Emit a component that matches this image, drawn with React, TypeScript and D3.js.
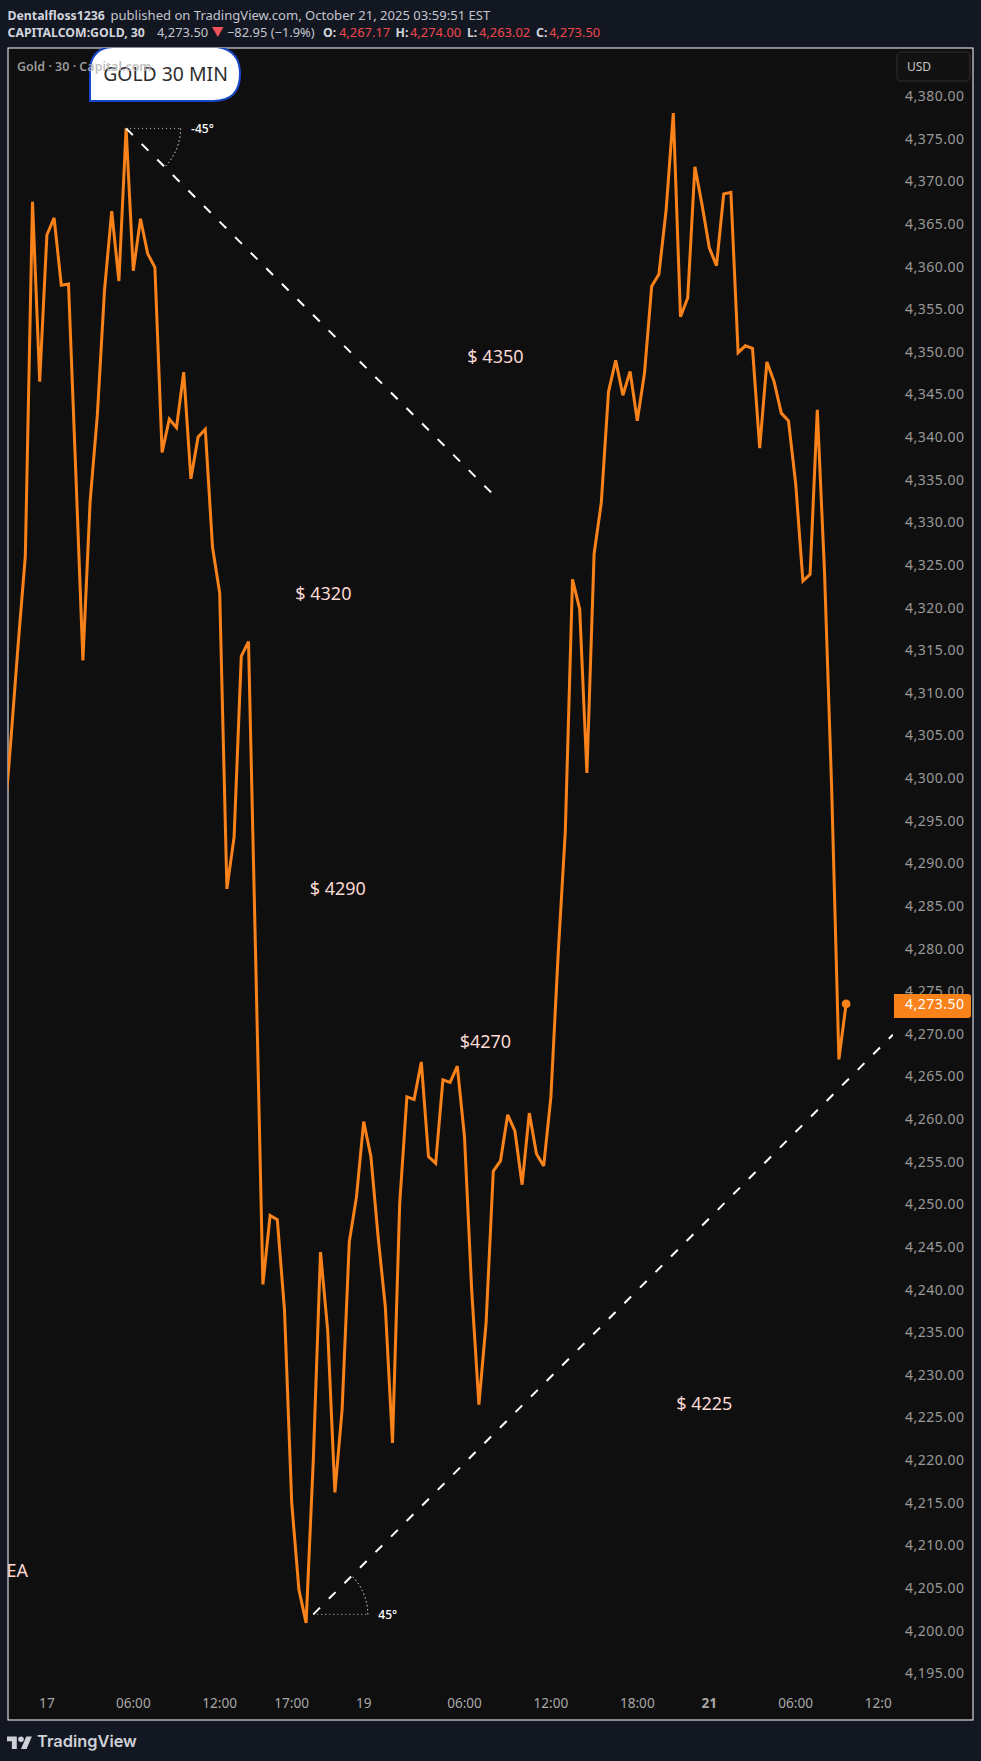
import React from "react";
import * as d3 from "d3";

const WIDTH = 981;
const HEIGHT = 1761;

// 30 minute closes
const closes = [
  4293.9, 4304.5, 4315.6, 4326.0, 4367.6, 4346.5, 4363.7, 4365.7, 4357.8, 4357.95,
  4336.1, 4313.8, 4332.4, 4342.5, 4357.2, 4366.5, 4358.3, 4376.2, 4359.5, 4365.6,
  4361.5, 4359.9, 4338.2, 4342.1, 4341.1, 4347.6, 4335.1, 4340.0, 4340.9, 4327.1,
  4321.7, 4287.0, 4293.1, 4314.3, 4316.0, 4278.7, 4240.6, 4248.7, 4248.2, 4237.6,
  4215.0, 4204.8, 4200.9, 4220.0, 4244.4, 4235.2, 4216.2, 4225.9, 4245.6, 4250.9,
  4259.7, 4255.6, 4246.2, 4238.0, 4222.0, 4250.1, 4262.6, 4262.3, 4266.7, 4255.6,
  4254.8, 4264.6, 4264.3, 4266.2, 4257.9, 4239.9, 4226.5, 4236.1, 4253.9, 4255.1,
  4260.5, 4258.6, 4252.3, 4260.7, 4255.9, 4254.5, 4262.6, 4279.2, 4293.7, 4323.3,
  4319.8, 4300.6, 4326.3, 4332.3, 4345.3, 4349.0, 4344.9, 4347.7, 4341.9, 4347.5,
  4357.7, 4359.1, 4366.6, 4378.0, 4354.1, 4356.3, 4371.7, 4367.2, 4362.2, 4360.1,
  4368.5, 4368.7, 4349.9, 4350.7, 4350.4, 4338.7, 4348.8, 4346.5, 4342.8, 4341.9,
  4334.5, 4323.1, 4323.9, 4343.2, 4324.2, 4298.6, 4267.0, 4273.5,
];

const priceTicks = d3.range(4195, 4385, 5);

const timeTicks = [
  { bar: 6, label: "17", bold: false },
  { bar: 18, label: "06:00", bold: false },
  { bar: 30, label: "12:00", bold: false },
  { bar: 40, label: "17:00", bold: false },
  { bar: 50, label: "19", bold: false },
  { bar: 64, label: "06:00", bold: false },
  { bar: 76, label: "12:00", bold: false },
  { bar: 88, label: "18:00", bold: false },
  { bar: 98, label: "21", bold: true },
  { bar: 110, label: "06:00", bold: false },
  { bar: 122, label: "12:00", bold: false },
];

// price notes, anchored on bar and price like the drawing tools
const notes = [
  { bar: 68.3, price: 4349.4, text: "$ 4350" },
  { bar: 44.4, price: 4321.7, text: "$ 4320" },
  { bar: 46.4, price: 4287.1, text: "$ 4290" },
  { bar: 66.9, price: 4269.1, text: "$4270" },
  { bar: 97.3, price: 4226.6, text: "$ 4225" },
];

const trendLines = [
  { from: [17, 4376.2], to: [67.7, 4333.5], angle: "-45°", dir: 1 },
  { from: [43, 4201.9], to: [123.5, 4269.9], angle: "45°", dir: -1 },
];

const titleParts = [
  { x: 7.5, text: "Dentalfloss1236", bold: true, color: "#d1d4dc" },
  { x: 110.5, text: "published on TradingView.com, October 21, 2025 03:59:51 EST", bold: false, color: "#c3c6ce" },
];

const legendParts = [
  { x: 7.5, text: "CAPITALCOM:GOLD, 30", bold: true, color: "#d1d4dc" },
  { x: 157, text: "4,273.50", bold: false, color: "#c3c6ce" },
  { x: 227, text: "−82.95 (−1.9%)", bold: false, color: "#c3c6ce" },
  { x: 323, text: "O:", bold: true, color: "#d1d4dc" },
  { x: 339, text: "4,267.17", bold: false, color: "#f0474c" },
  { x: 395.5, text: "H:", bold: true, color: "#d1d4dc" },
  { x: 410, text: "4,274.00", bold: false, color: "#f0474c" },
  { x: 467, text: "L:", bold: true, color: "#d1d4dc" },
  { x: 479, text: "4,263.02", bold: false, color: "#f0474c" },
  { x: 536, text: "C:", bold: true, color: "#d1d4dc" },
  { x: 549, text: "4,273.50", bold: false, color: "#f0474c" },
];

const FONT = "'Noto Sans', sans-serif";
const ORANGE = "#f9821a";

const x = d3.scaleLinear().domain([0, 117]).range([3.7, 846.1]);
const y = d3.scaleLinear().domain([4380, 4195]).range([96, 1673.2]);
const fmt = d3.format(",.2f");

const App: React.FC = () => {
  const line = d3
    .line<number>()
    .x((_, i) => x(i))
    .y((d) => y(d))
    .curve(d3.curveLinear);

  const lastBar = closes.length - 1;
  const lastClose = closes[lastBar];
  const arc = d3.arc();

  return (
    <svg
      width={WIDTH}
      height={HEIGHT}
      viewBox={`0 0 ${WIDTH} ${HEIGHT}`}
      style={{ position: "absolute", left: 0, top: 0, display: "block", fontFamily: FONT }}
    >
      <defs>
        <clipPath id="pane">
          <rect x={8} y={48} width={965} height={1672} />
        </clipPath>
        <clipPath id="plot">
          <rect x={8} y={48} width={885} height={1672} />
        </clipPath>
        <clipPath id="timescale">
          <rect x={8} y={1680} width={884} height={40} />
        </clipPath>
      </defs>

      <rect width={WIDTH} height={HEIGHT} fill="#131722" />
      <rect x={8} y={48} width={965} height={1672} fill="#0f0f0f" stroke="#ffffff" strokeWidth={1} />

      {titleParts.map((d) => (
        <text key={d.x} x={d.x} y={19.5} fontSize={d.bold ? 12.3 : 13.05} fontWeight={d.bold ? 700 : 400} fill={d.color}>
          {d.text}
        </text>
      ))}
      {legendParts.map((d) => (
        <text key={d.x} x={d.x} y={37} fontSize={d.bold ? 12.3 : 12.9} fontWeight={d.bold ? 700 : 400} fill={d.color}>
          {d.text}
        </text>
      ))}
      <path d="M212 27h11.5l-5.7 10z" fill="#f0525a" />

      <g clipPath="url(#pane)">
        <path
          d="M90 101V72Q90 48 113 47H217Q240 50 240 74Q240 101 213 101Z"
          fill="#ffffff"
          stroke="#1848c8"
          strokeWidth={2}
        />
        <text x={165.5} y={80.5} textAnchor="middle" fontSize={19.4} fill="#2e2e2e">
          GOLD 30 MIN
        </text>
        <text x={17} y={71} fontSize={12.5} fontWeight={600} fill="#b4b4b4" fillOpacity={0.85}>
          Gold · 30 · Capital.com
        </text>
      </g>

      <g clipPath="url(#plot)">
        <path
          d={line(closes) ?? ""}
          fill="none"
          stroke={ORANGE}
          strokeWidth={3}
          strokeLinejoin="miter"
          strokeMiterlimit={3}
        />
        <circle cx={x(lastBar)} cy={y(lastClose)} r={4.4} fill={ORANGE} />

        {trendLines.map((t) => {
          const x0 = x(t.from[0]);
          const y0 = y(t.from[1]);
          const r = 54.5;
          const a = arc({
            innerRadius: r,
            outerRadius: r,
            startAngle: Math.PI / 2,
            endAngle: t.dir > 0 ? (Math.PI * 3) / 4 : Math.PI / 4,
          });
          return (
            <g key={t.angle}>
              <line
                x1={x0}
                y1={y0}
                x2={x(t.to[0])}
                y2={y(t.to[1])}
                stroke="#ffffff"
                strokeWidth={2}
                strokeDasharray="9.5 12.5"
              />
              <line x1={x0} y1={y0} x2={x0 + r} y2={y0} stroke="#c8c8c8" strokeWidth={1} strokeDasharray="1 3" />
              <path
                d={a ?? ""}
                transform={`translate(${x0},${y0})`}
                fill="none"
                stroke="#c8c8c8"
                strokeWidth={1}
                strokeDasharray="1 3"
              />
              <text x={x0 + r + 10.5} y={y0 + 5} fontSize={12} fontWeight={500} fill="#ffffff">
                {t.angle}
              </text>
            </g>
          );
        })}

        {notes.map((n) => (
          <text key={n.text} x={x(n.bar)} y={y(n.price) + 6.5} textAnchor="middle" fontSize={18} fill="#fbd9d4">
            {n.text}
          </text>
        ))}
        <text x={6.5} y={1576.5} fontSize={18} fill="#fbd9d4">
          EA
        </text>
      </g>

      <g clipPath="url(#timescale)">
        {timeTicks.map((t) => (
          <text
            key={t.bar}
            x={x(t.bar)}
            y={1707.5}
            textAnchor="middle"
            fontSize={13.6}
            fontWeight={t.bold ? 700 : 400}
            fill="#a8a8a8"
          >
            {t.label}
          </text>
        ))}
      </g>

      {priceTicks.map((p) => (
        <text key={p} x={964.5} y={y(p) + 5} textAnchor="end" fontSize={14} letterSpacing={0.5} fill="#999999">
          {fmt(p)}
        </text>
      ))}

      <path d="M894 994h74q3 0 3 3v18q0 3-3 3h-74z" fill={ORANGE} />
      <text x={964.5} y={y(lastClose) + 5.5} textAnchor="end" fontSize={14} letterSpacing={0.5} fill="#ffffff">
        {fmt(lastClose)}
      </text>

      <rect x={897} y={52} width={73} height={29} rx={4} fill="#121212" stroke="#2c2c2c" strokeWidth={1.2} />
      <text x={907} y={70.8} fontSize={12} fill="#c4c4c4">
        USD
      </text>

      <g fill="#cfd1d8" transform="translate(7,1733.6) scale(0.7)">
        <path d="M14 22H7V11H0V4h14v18zM28 22h-8l7.5-18h8L28 22z" />
        <circle cx={20} cy={8} r={4} />
      </g>
      <text x={37} y={1747} fontSize={16.4} fontWeight={600} fontFamily="Inter, sans-serif" fill="#cfd1d8">
        TradingView
      </text>
    </svg>
  );
};

export default App;
